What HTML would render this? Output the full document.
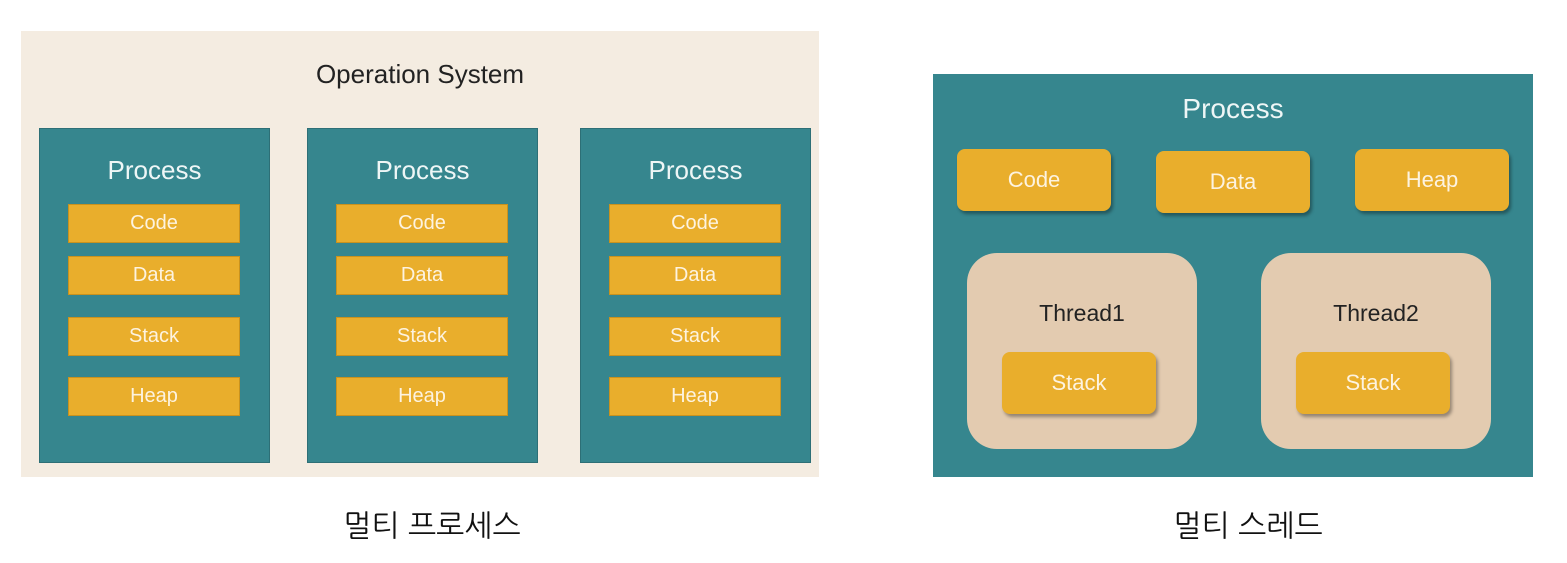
<!DOCTYPE html><html><head><meta charset="utf-8"><style>
body{margin:0;width:1567px;height:563px;background:#fff;position:relative;overflow:hidden;font-family:"Liberation Sans","NanumGothic",sans-serif}
div{position:absolute;box-sizing:border-box}
.t{display:flex;align-items:center;justify-content:center}
.y{background:#e9ae2c;color:#fdf3e0;font-size:20px;border:1px solid #c9921e}
.p{background:#36868e;border:1px solid #2d6f76}
.yr{background:#e9ae2c;color:#fdf3e0;font-size:22px;border-radius:8px;box-shadow:2px 3px 3px rgba(0,0,0,.35)}
.th{background:#e3cbb0;border-radius:30px}
</style></head><body>
<div style="left:21px;top:31px;width:798px;height:446px;background:#f4ece1"></div>
<div class="t" style="left:21px;top:55px;width:798px;height:38px;font-size:26px;color:#222">Operation System</div>

<div class="p" style="left:39px;top:128px;width:231px;height:335px"></div>
<div class="p" style="left:307px;top:128px;width:231px;height:335px"></div>
<div class="p" style="left:580px;top:128px;width:231px;height:335px"></div>

<div class="t" style="left:39px;top:152px;width:231px;height:36px;font-size:26px;color:#eef6f6">Process</div>
<div class="t" style="left:307px;top:152px;width:231px;height:36px;font-size:26px;color:#eef6f6">Process</div>
<div class="t" style="left:580px;top:152px;width:231px;height:36px;font-size:26px;color:#eef6f6">Process</div>

<div class="y t" style="left:68px;top:204px;width:172px;height:39px">Code</div>
<div class="y t" style="left:68px;top:256px;width:172px;height:39px">Data</div>
<div class="y t" style="left:68px;top:317px;width:172px;height:39px">Stack</div>
<div class="y t" style="left:68px;top:377px;width:172px;height:39px">Heap</div>
<div class="y t" style="left:336px;top:204px;width:172px;height:39px">Code</div>
<div class="y t" style="left:336px;top:256px;width:172px;height:39px">Data</div>
<div class="y t" style="left:336px;top:317px;width:172px;height:39px">Stack</div>
<div class="y t" style="left:336px;top:377px;width:172px;height:39px">Heap</div>
<div class="y t" style="left:609px;top:204px;width:172px;height:39px">Code</div>
<div class="y t" style="left:609px;top:256px;width:172px;height:39px">Data</div>
<div class="y t" style="left:609px;top:317px;width:172px;height:39px">Stack</div>
<div class="y t" style="left:609px;top:377px;width:172px;height:39px">Heap</div>

<div style="left:933px;top:74px;width:600px;height:403px;background:#36868e"></div>
<div class="t" style="left:933px;top:90px;width:600px;height:38px;font-size:28px;color:#eef6f6">Process</div>
<div class="yr t" style="left:957px;top:149px;width:154px;height:62px">Code</div>
<div class="yr t" style="left:1156px;top:151px;width:154px;height:62px">Data</div>
<div class="yr t" style="left:1355px;top:149px;width:154px;height:62px">Heap</div>
<div class="th" style="left:967px;top:253px;width:230px;height:196px"></div>
<div class="th" style="left:1261px;top:253px;width:230px;height:196px"></div>
<div class="t" style="left:967px;top:297px;width:230px;height:32px;font-size:23px;color:#222">Thread1</div>
<div class="t" style="left:1261px;top:297px;width:230px;height:32px;font-size:23px;color:#222">Thread2</div>
<div class="yr t" style="left:1002px;top:352px;width:154px;height:62px">Stack</div>
<div class="yr t" style="left:1296px;top:352px;width:154px;height:62px">Stack</div>

<div class="t" style="left:232px;top:506px;width:400px;height:40px;font-size:30px;color:#111">멀티 프로세스</div>
<div class="t" style="left:1048px;top:506px;width:400px;height:40px;font-size:30px;color:#111">멀티 스레드</div>
</body></html>
